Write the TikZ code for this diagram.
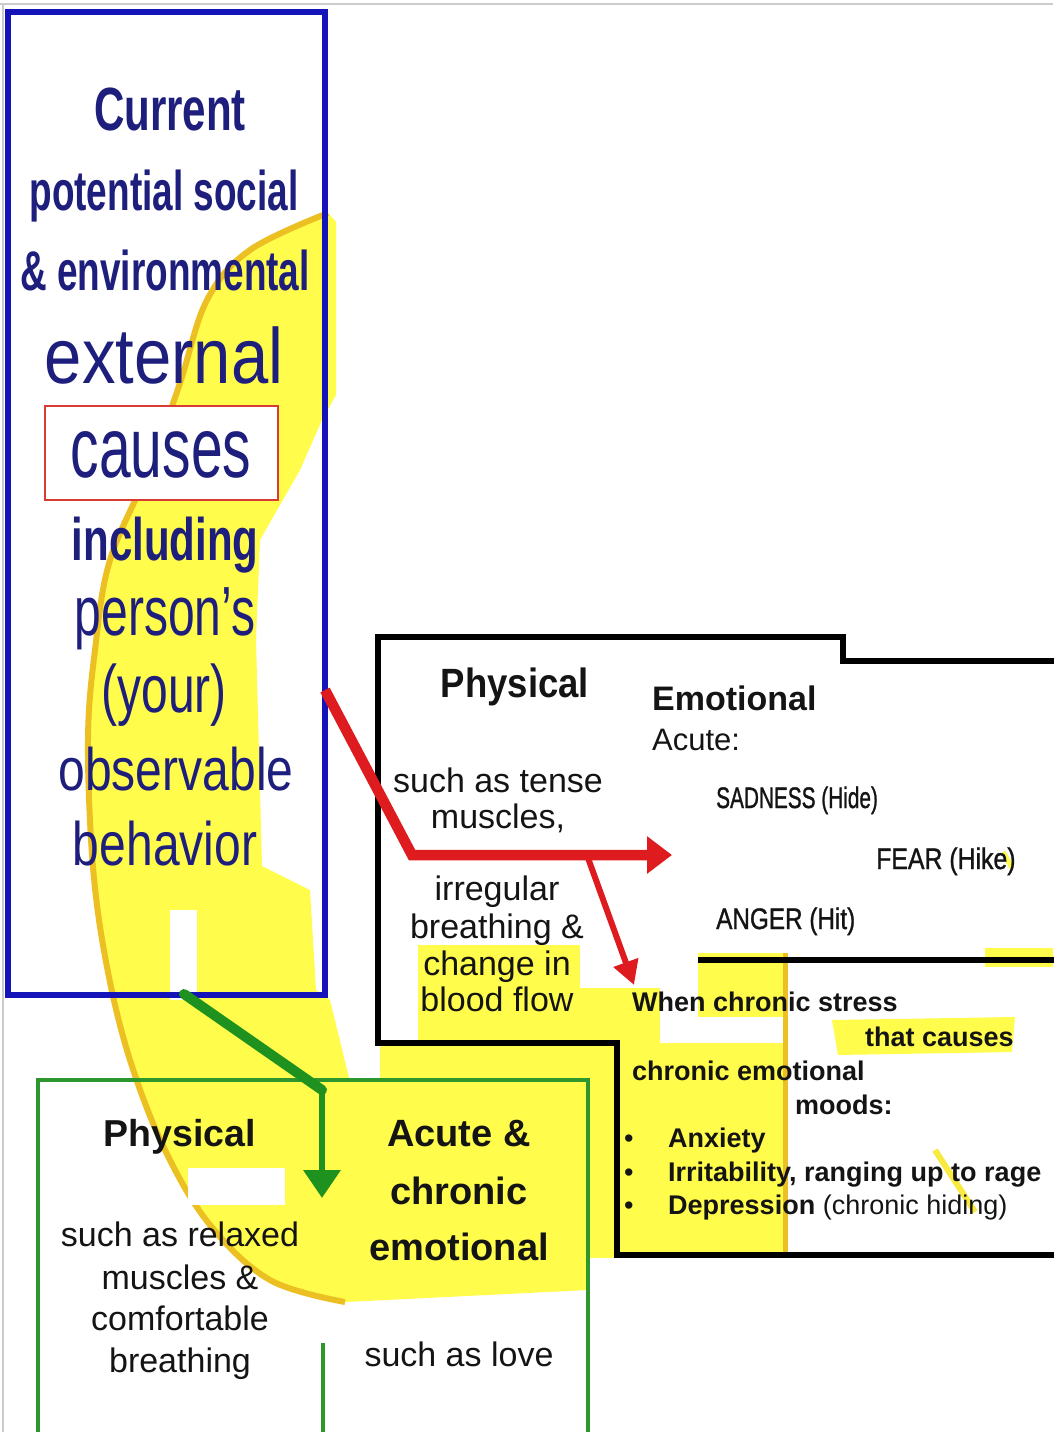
\documentclass[tikz,border=0pt]{standalone}
\usepackage{fontspec}
\setmainfont{Liberation Sans}
\usetikzlibrary{arrows.meta}
\usetikzlibrary{positioning}

\definecolor{navy}{RGB}{30,30,125}
\definecolor{bluebd}{RGB}{20,20,185}
\definecolor{redbd}{RGB}{215,60,50}
\definecolor{redarr}{RGB}{222,28,32}
\definecolor{greenbd}{RGB}{45,150,45}
\definecolor{greenarr}{RGB}{30,145,30}
\definecolor{hiyel}{RGB}{255,252,75}
\definecolor{hiedge}{RGB}{236,192,35}

\newcommand{\fsz}[1]{\fontsize{#1}{#1}\selectfont}

\begin{document}
\begin{tikzpicture}[
  x=1pt, y=-1pt,
  txt/.style={inner sep=0pt, anchor=base},
  txtw/.style={inner sep=0pt, anchor=base west},
  bluetxt/.style={txt, text=navy},
  blk/.style={txt, text=black!92},
  blkw/.style={txtw, text=black!92},
  stressline/.style={draw=black, line width=5.5pt, line join=miter},
  redarrow/.style={-{Triangle[length=25pt,width=36pt]}, line width=10.5pt, draw=redarr, line join=miter},
  redthin/.style={-{Triangle[length=24pt,width=25pt]}, line width=6pt, draw=redarr},
  greenbar/.style={line width=10pt, draw=greenarr, line cap=round},
  greenarrow/.style={-{Triangle[length=28pt,width=36pt]}, line width=6.5pt, draw=greenarr}
]
\useasboundingbox (0,0) rectangle (1053,1432);
\fill[white] (0,0) rectangle (1053,1432);
\draw[black!20, line width=1.5pt] (0,4) -- (1053,4);
\draw[black!20, line width=1.5pt] (3,4) -- (3,1432);

% highlighter crescent
\fill[hiyel] plot[smooth, tension=0.6] coordinates {(328,213) (250,250) (207,300) (180,383) (150,467) (110,560) (95,650) (88,740) (93,867) (107,967) (130,1060) (165,1150) (210,1225) (270,1280) (345,1302)}
  -- (588,1290) -- (588,1082) -- (350,1082) -- (330,1000) -- (316,990) -- (310,890) -- (262,866)
  -- (256,640) -- (260,540) -- (300,470) -- (322,420) -- (336,395) -- (336,222) -- cycle;
\draw[hiedge, line width=6pt] plot[smooth, tension=0.6] coordinates {(328,213) (250,250) (207,300) (180,383) (150,467) (110,560) (95,650) (88,740) (93,867) (107,967) (130,1060) (165,1150) (210,1225) (270,1280) (345,1302)};
\fill[white] (170,910) rectangle (197,1000);
\fill[white] (188,1168) rectangle (285,1205);

% highlighter, lower right
\fill[hiyel] (380,1045) rectangle (620,1082);
\fill[hiyel] (418,945) rectangle (580,1043);
\fill[hiyel] (580,988) rectangle (660,1043);
\fill[hiyel] (698,953) rectangle (787,1017);
\fill[hiyel] (588,1043) rectangle (787,1258);
\fill[hiyel] (832,1020) -- (1015,1017) -- (1012,1052) -- (838,1055) -- cycle;
\fill[hiyel] (985,948) rectangle (1053,967);
\draw[hiedge, line width=5pt] (785,953) -- (785,1258);
\draw[hiyel!70!hiedge, line width=6pt] (935,1150) -- (975,1212);
\draw[hiyel, line width=5pt] (1003,852) -- (1012,868);

% environment box
\node (env) [draw=bluebd, line width=5.5pt, minimum width=317pt, minimum height=983pt, inner sep=0pt] at (166.5,503.5) {};
\node (causebox) [draw=redbd, fill=white, line width=1.8pt, minimum width=233pt, minimum height=94pt, inner sep=0pt] at (161.5,453) {};

\node[bluetxt] (cur) at (170,130) {\fsz{61}\bfseries\scalebox{0.69}[1]{Current}};
\node[bluetxt] (pot) at (164,210) {\fsz{56}\bfseries\scalebox{0.66}[1]{potential social}};
\node[bluetxt] (envr) at (165,290) {\fsz{56}\bfseries\scalebox{0.66}[1]{\& environmental}};
\node[bluetxt] (ext) at (164,383) {\fsz{67}\scalebox{1}[1.17]{external}};
\node[bluetxt] (cau) at (161,477) {\fsz{57}\scalebox{1}[1.5]{causes}};
\node[bluetxt] (incl) at (165,560) {\fsz{60}\bfseries\scalebox{0.7}[1]{including}};
\node[bluetxt] (pers) at (165,635) {\fsz{48}\scalebox{1}[1.45]{person’s}};
\node[bluetxt] (your) at (164,712) {\fsz{48}\scalebox{1}[1.4]{(your)}};
\node[bluetxt] (obs) at (176,790) {\fsz{48}\scalebox{1}[1.25]{observable}};
\node[bluetxt] (beh) at (165,865) {\fsz{48}\scalebox{1}[1.28]{behavior}};

% stressed reaction outline
\draw[stressline] (1060,661) -- (843,661) -- (843,637) -- (378,637) -- (378,1043) -- (617,1043) -- (617,1255) -- (1060,1255);
\draw[stressline] (698,960) -- (1060,960);

% relaxed reaction box
\node (calm) [draw=greenbd, line width=3.5pt, minimum width=550pt, minimum height=370pt, inner sep=0pt] at (313,1265) {};
\coordinate (div) at (323,1343);
\draw[greenbd, line width=3.5pt] (div) -- (div |- 0,1440);

% arrows
\coordinate (r0) at (325,690);
\coordinate (r1) at (412,855);
\coordinate (emo) at (672,855);
\coordinate (r2) at (588,858);
\coordinate (chr) at (634,985);
\draw[redarrow] (r0) -- (r1) -- (emo);
\draw[redthin] (r2) -- (chr);

\coordinate (g0) at (184,994);
\coordinate (g1) at (322,1090);
\coordinate (g2) at (322,1198);
\draw[greenbar] (g0) -- (g1);
\draw[greenarrow] (g1) -- (g2);

% upper physical
\node[blk] (phy1) at (515,697) {\fsz{36.5}\bfseries\scalebox{1}[1.12]{Physical}};
\node[blk] (ten1) at (498,792) {\fsz{34}such as tense};
\node[blk] (ten2) at (498,828) {\fsz{34}muscles,};
\node[blk] (irr1) at (497,900) {\fsz{34}irregular};
\node[blk] (irr2) at (497,938) {\fsz{34}breathing \&};
\node[blk] (irr3) at (497,975) {\fsz{34}change in};
\node[blk] (irr4) at (497,1011) {\fsz{34}blood flow};

% upper emotional
\node[blkw] (emo1) at (652,710) {\fsz{34}\bfseries Emotional};
\node[blkw] (acu) at (652,750) {\fsz{31}Acute:};
\node[blkw] (sad) at (716,808) {\fsz{27}\addfontfeature{FakeBold=1.2}\scalebox{0.77}[1.1]{SADNESS (Hide)}};
\node[blkw] (fear) at (876,869) {\fsz{27}\addfontfeature{FakeBold=1.2}\scalebox{0.92}[1.1]{FEAR (Hike)}};
\node[blkw] (ang) at (716,929) {\fsz{27}\addfontfeature{FakeBold=1.2}\scalebox{0.9}[1.1]{ANGER (Hit)}};

% chronic moods
\node[blkw] (ch1) at (632,1011) {\fsz{27}\bfseries When chronic stress};
\node[blkw] (ch2) at (865,1046) {\fsz{27}\bfseries that causes};
\node[blkw] (ch3) at (632,1080) {\fsz{27}\bfseries chronic emotional};
\node[blkw] (ch4) at (795,1114) {\fsz{27}\bfseries moods:};
\node[blkw] (b1) at (624,1147) {\fsz{27}\textbullet};
\node[blkw] (b2) at (624,1181) {\fsz{27}\textbullet};
\node[blkw] (b3) at (624,1214) {\fsz{27}\textbullet};
\node[blkw] (anx) at (668,1147) {\fsz{27}\bfseries Anxiety};
\node[blkw] (irt) at (668,1181) {\fsz{27}\bfseries Irritability, ranging up to rage};
\node[blkw] (dep) at (668,1214) {\fsz{27}\bfseries Depression \mdseries(chronic hiding)};

% relaxed physical
\node[blk] (phy2) at (180,1146) {\fsz{37.5}\bfseries Physical};
\node[blk] (rel1) at (180,1246) {\fsz{34}such as relaxed};
\node[blk] (rel2) at (180,1289) {\fsz{34}muscles \&};
\node[blk] (rel3) at (180,1330) {\fsz{34}comfortable};
\node[blk] (rel4) at (180,1372) {\fsz{34}breathing};

% relaxed emotional
\node[blk] (ac1) at (459,1146) {\fsz{38}\bfseries Acute \&};
\node[blk] (ac2) at (459,1204) {\fsz{38}\bfseries chronic};
\node[blk] (ac3) at (459,1260) {\fsz{38}\bfseries emotional};
\node[blk] (love) at (459,1366) {\fsz{34}such as love};

\end{tikzpicture}
\end{document}
